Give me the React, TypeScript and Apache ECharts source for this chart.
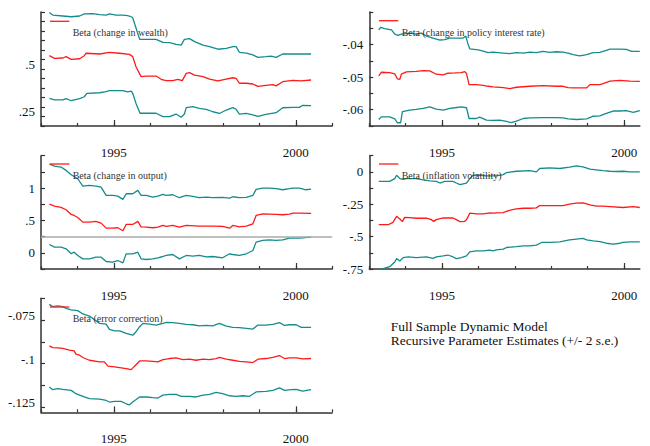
import React, { useEffect, useRef } from "react";
import * as echarts from "echarts";

// ---------- data (time in years, value) ----------
const W_UP = [[1993.23,0.772],[1993.32,0.759],[1993.60,0.754],[1993.83,0.750],[1994.06,0.754],[1994.19,0.765],[1994.42,0.766],[1994.61,0.761],[1994.79,0.759],[1994.88,0.765],[1995.06,0.759],[1995.25,0.759],[1995.38,0.756],[1995.48,0.750],[1995.52,0.745],[1995.71,0.631],[1996.16,0.631],[1996.35,0.615],[1996.53,0.614],[1996.71,0.605],[1996.85,0.601],[1996.94,0.631],[1997.08,0.635],[1997.22,0.619],[1997.45,0.601],[1997.63,0.593],[1997.86,0.579],[1998.09,0.584],[1998.27,0.593],[1998.36,0.593],[1998.45,0.563],[1998.64,0.558],[1998.82,0.549],[1998.96,0.536],[1999.18,0.540],[1999.32,0.543],[1999.46,0.536],[1999.64,0.554],[1999.92,0.554],[2000.42,0.554]];
const W_MID = [[1993.23,0.545],[1993.37,0.531],[1993.60,0.533],[1993.69,0.540],[1993.83,0.526],[1994.06,0.529],[1994.19,0.545],[1994.24,0.558],[1994.61,0.554],[1994.88,0.563],[1995.16,0.558],[1995.43,0.552],[1995.52,0.540],[1995.61,0.487],[1995.75,0.435],[1995.89,0.438],[1996.16,0.438],[1996.30,0.421],[1996.44,0.414],[1996.62,0.414],[1996.76,0.421],[1996.88,0.414],[1996.99,0.452],[1997.08,0.456],[1997.22,0.443],[1997.45,0.435],[1997.63,0.422],[1997.86,0.412],[1998.09,0.422],[1998.27,0.429],[1998.36,0.426],[1998.45,0.400],[1998.64,0.400],[1998.82,0.396],[1998.96,0.384],[1999.18,0.389],[1999.37,0.393],[1999.46,0.386],[1999.64,0.408],[1999.92,0.415],[2000.15,0.413],[2000.42,0.417]];
const W_LO = [[1993.23,0.321],[1993.37,0.312],[1993.60,0.312],[1993.69,0.319],[1993.83,0.308],[1994.06,0.319],[1994.19,0.329],[1994.26,0.347],[1994.61,0.350],[1994.79,0.356],[1994.88,0.361],[1995.25,0.361],[1995.38,0.354],[1995.48,0.359],[1995.52,0.347],[1995.61,0.294],[1995.72,0.242],[1996.16,0.242],[1996.35,0.224],[1996.53,0.224],[1996.71,0.238],[1996.85,0.221],[1996.94,0.238],[1996.99,0.272],[1997.17,0.277],[1997.35,0.268],[1997.54,0.263],[1997.72,0.250],[1997.90,0.241],[1998.09,0.259],[1998.27,0.272],[1998.36,0.263],[1998.45,0.238],[1998.64,0.241],[1998.82,0.233],[1998.96,0.226],[1999.18,0.236],[1999.46,0.245],[1999.64,0.271],[1999.92,0.273],[2000.10,0.273],[2000.19,0.284],[2000.42,0.282]];

const P_UP = [[1993.26,-0.0355],[1993.31,-0.0347],[1993.42,-0.0351],[1993.61,-0.0355],[1993.70,-0.0368],[1993.79,-0.0372],[1993.88,-0.0368],[1994.11,-0.0365],[1994.29,-0.0368],[1994.43,-0.0365],[1994.57,-0.0374],[1994.75,-0.0380],[1994.94,-0.0386],[1995.07,-0.0385],[1995.21,-0.0380],[1995.39,-0.0380],[1995.58,-0.0380],[1995.65,-0.0374],[1995.71,-0.0398],[1995.76,-0.0413],[1995.99,-0.0416],[1996.13,-0.0420],[1996.26,-0.0425],[1996.40,-0.0423],[1996.68,-0.0426],[1996.86,-0.0428],[1997.04,-0.0425],[1997.23,-0.0426],[1997.41,-0.0423],[1997.59,-0.0425],[1997.77,-0.0421],[1997.96,-0.0424],[1998.14,-0.0422],[1998.32,-0.0423],[1998.46,-0.0426],[1998.60,-0.0431],[1998.78,-0.0435],[1998.97,-0.0431],[1999.15,-0.0425],[1999.33,-0.0424],[1999.51,-0.0418],[1999.61,-0.0414],[1999.88,-0.0414],[2000.06,-0.0415],[2000.20,-0.0421],[2000.43,-0.0421]];
const P_MID = [[1993.26,-0.0496],[1993.33,-0.0485],[1993.56,-0.0486],[1993.70,-0.0490],[1993.77,-0.0505],[1993.84,-0.0507],[1993.88,-0.0491],[1994.02,-0.0484],[1994.29,-0.0482],[1994.48,-0.0480],[1994.66,-0.0481],[1994.84,-0.0491],[1995.03,-0.0493],[1995.16,-0.0488],[1995.35,-0.0487],[1995.53,-0.0486],[1995.62,-0.0483],[1995.67,-0.0489],[1995.74,-0.0523],[1995.94,-0.0523],[1996.13,-0.0525],[1996.26,-0.0528],[1996.40,-0.0530],[1996.68,-0.0532],[1996.86,-0.0535],[1997.04,-0.0531],[1997.41,-0.0528],[1997.77,-0.0526],[1998.14,-0.0528],[1998.32,-0.0528],[1998.46,-0.0532],[1998.60,-0.0533],[1998.97,-0.0533],[1999.06,-0.0523],[1999.33,-0.0523],[1999.42,-0.0520],[1999.61,-0.0512],[1999.88,-0.0510],[2000.16,-0.0512],[2000.43,-0.0513]];
const P_LO = [[1993.26,-0.0630],[1993.33,-0.0622],[1993.56,-0.0622],[1993.70,-0.0628],[1993.77,-0.0640],[1993.86,-0.0640],[1993.91,-0.0606],[1994.11,-0.0601],[1994.29,-0.0599],[1994.48,-0.0596],[1994.66,-0.0591],[1994.84,-0.0598],[1995.03,-0.0601],[1995.21,-0.0596],[1995.35,-0.0594],[1995.53,-0.0591],[1995.67,-0.0594],[1995.74,-0.0627],[1995.94,-0.0627],[1996.03,-0.0623],[1996.22,-0.0632],[1996.40,-0.0633],[1996.58,-0.0632],[1996.77,-0.0636],[1996.90,-0.0640],[1997.04,-0.0635],[1997.23,-0.0627],[1997.41,-0.0625],[1997.77,-0.0624],[1998.14,-0.0624],[1998.32,-0.0625],[1998.46,-0.0628],[1998.69,-0.0630],[1998.97,-0.0628],[1999.15,-0.0620],[1999.33,-0.0619],[1999.51,-0.0611],[1999.70,-0.0604],[1999.88,-0.0604],[2000.06,-0.0603],[2000.25,-0.0608],[2000.43,-0.0603]];

const O_UP = [[1993.23,1.371],[1993.37,1.340],[1993.55,1.325],[1993.69,1.273],[1993.83,1.206],[1994.01,1.144],[1994.15,1.031],[1994.33,1.041],[1994.51,1.031],[1994.65,1.015],[1994.79,0.887],[1994.97,0.887],[1995.11,0.876],[1995.25,0.825],[1995.34,0.912],[1995.52,0.912],[1995.66,0.964],[1995.75,0.887],[1995.89,0.887],[1996.07,0.861],[1996.21,0.876],[1996.35,0.902],[1996.44,0.887],[1996.62,0.897],[1996.80,0.851],[1996.99,0.887],[1997.17,0.871],[1997.35,0.851],[1997.54,0.861],[1997.72,0.851],[1997.99,0.856],[1998.18,0.845],[1998.27,0.866],[1998.45,0.851],[1998.64,0.856],[1998.82,0.887],[1998.91,0.979],[1999.09,1.000],[1999.28,1.000],[1999.46,0.990],[1999.64,0.974],[1999.83,0.990],[1999.92,1.000],[2000.10,1.000],[2000.28,0.974],[2000.42,0.985]];
const O_MID = [[1993.23,0.753],[1993.37,0.722],[1993.55,0.701],[1993.69,0.665],[1993.83,0.593],[1993.91,0.577],[1994.01,0.546],[1994.15,0.474],[1994.33,0.474],[1994.51,0.485],[1994.65,0.459],[1994.79,0.381],[1994.97,0.381],[1995.11,0.387],[1995.25,0.340],[1995.34,0.438],[1995.52,0.438],[1995.66,0.485],[1995.75,0.402],[1995.89,0.397],[1996.07,0.387],[1996.21,0.397],[1996.35,0.423],[1996.44,0.407],[1996.62,0.423],[1996.80,0.397],[1996.99,0.423],[1997.35,0.412],[1997.72,0.412],[1997.99,0.407],[1998.18,0.381],[1998.27,0.423],[1998.45,0.402],[1998.64,0.412],[1998.82,0.448],[1998.91,0.577],[1999.09,0.603],[1999.28,0.598],[1999.46,0.593],[1999.64,0.588],[1999.83,0.598],[1999.92,0.613],[2000.10,0.613],[2000.42,0.608]];
const O_LO = [[1993.23,0.129],[1993.37,0.088],[1993.55,0.088],[1993.69,0.062],[1993.83,-0.015],[1993.91,0.010],[1994.01,-0.041],[1994.15,-0.093],[1994.33,-0.093],[1994.51,-0.067],[1994.65,-0.067],[1994.79,-0.134],[1994.97,-0.144],[1995.11,-0.119],[1995.25,-0.155],[1995.34,-0.015],[1995.52,-0.015],[1995.66,0.010],[1995.75,-0.093],[1995.89,-0.103],[1996.07,-0.093],[1996.21,-0.077],[1996.35,-0.057],[1996.44,-0.041],[1996.62,-0.026],[1996.80,-0.093],[1996.99,-0.041],[1997.17,-0.051],[1997.35,-0.041],[1997.54,-0.062],[1997.72,-0.057],[1997.99,-0.077],[1998.18,-0.015],[1998.27,-0.026],[1998.45,-0.041],[1998.64,-0.015],[1998.82,0.036],[1998.91,0.165],[1999.09,0.191],[1999.28,0.201],[1999.46,0.191],[1999.64,0.201],[1999.83,0.227],[2000.10,0.227],[2000.42,0.242]];
const OUTPUT_REF = 0.25;

const I_UP = [[1993.26,-0.073],[1993.56,-0.073],[1993.70,-0.052],[1993.75,-0.026],[1993.84,-0.052],[1993.93,-0.057],[1994.02,-0.052],[1994.29,-0.052],[1994.48,-0.062],[1994.66,-0.070],[1994.84,-0.073],[1994.94,-0.086],[1995.07,-0.073],[1995.30,-0.073],[1995.39,-0.086],[1995.49,-0.099],[1995.67,-0.086],[1995.76,-0.052],[1995.85,-0.026],[1996.03,-0.026],[1996.22,-0.031],[1996.49,-0.031],[1996.68,-0.021],[1996.77,-0.005],[1997.04,0.005],[1997.41,0.010],[1997.59,0.000],[1997.68,0.026],[1997.96,0.031],[1998.23,0.026],[1998.50,0.036],[1998.69,0.047],[1998.87,0.039],[1999.06,0.021],[1999.24,0.016],[1999.42,0.010],[1999.61,0.005],[1999.79,0.003],[1999.97,0.005],[2000.16,0.000],[2000.43,0.000]];
const I_MID = [[1993.26,-0.408],[1993.52,-0.408],[1993.65,-0.390],[1993.75,-0.343],[1993.84,-0.364],[1993.91,-0.384],[1993.97,-0.351],[1994.11,-0.353],[1994.29,-0.358],[1994.57,-0.358],[1994.70,-0.369],[1994.77,-0.382],[1994.84,-0.369],[1995.03,-0.356],[1995.30,-0.356],[1995.39,-0.369],[1995.49,-0.384],[1995.62,-0.382],[1995.67,-0.369],[1995.76,-0.319],[1995.94,-0.325],[1996.13,-0.325],[1996.31,-0.317],[1996.40,-0.319],[1996.49,-0.317],[1996.68,-0.314],[1996.77,-0.304],[1996.90,-0.294],[1997.04,-0.286],[1997.23,-0.281],[1997.41,-0.281],[1997.59,-0.278],[1997.68,-0.260],[1998.14,-0.260],[1998.32,-0.260],[1998.50,-0.249],[1998.69,-0.242],[1998.87,-0.239],[1998.97,-0.247],[1999.06,-0.255],[1999.24,-0.265],[1999.42,-0.265],[1999.61,-0.268],[1999.97,-0.275],[2000.25,-0.268],[2000.43,-0.275]];
const I_LO = [[1993.26,-0.753],[1993.38,-0.748],[1993.56,-0.732],[1993.70,-0.696],[1993.75,-0.670],[1993.84,-0.688],[1993.93,-0.662],[1994.07,-0.657],[1994.29,-0.662],[1994.57,-0.657],[1994.75,-0.668],[1994.84,-0.657],[1995.03,-0.649],[1995.16,-0.642],[1995.30,-0.657],[1995.39,-0.670],[1995.53,-0.662],[1995.67,-0.649],[1995.76,-0.618],[1995.94,-0.610],[1996.13,-0.610],[1996.31,-0.605],[1996.40,-0.610],[1996.49,-0.603],[1996.68,-0.597],[1996.77,-0.584],[1997.04,-0.577],[1997.23,-0.571],[1997.41,-0.571],[1997.59,-0.566],[1997.73,-0.545],[1997.96,-0.545],[1998.23,-0.540],[1998.50,-0.525],[1998.69,-0.519],[1998.87,-0.514],[1998.97,-0.525],[1999.15,-0.532],[1999.33,-0.538],[1999.51,-0.551],[1999.70,-0.558],[1999.88,-0.551],[1999.97,-0.545],[2000.16,-0.540],[2000.43,-0.540]];

const E_UP = [[1993.23,-0.0685],[1993.32,-0.0698],[1993.46,-0.0694],[1993.60,-0.0698],[1993.69,-0.0708],[1993.83,-0.0717],[1994.01,-0.0721],[1994.15,-0.0740],[1994.33,-0.0752],[1994.61,-0.0794],[1994.79,-0.0798],[1994.88,-0.0829],[1995.02,-0.0837],[1995.16,-0.0837],[1995.34,-0.0852],[1995.52,-0.0862],[1995.61,-0.0842],[1995.71,-0.0813],[1995.80,-0.0794],[1995.98,-0.0798],[1996.16,-0.0804],[1996.35,-0.0794],[1996.44,-0.0788],[1996.62,-0.0790],[1996.80,-0.0794],[1996.99,-0.0800],[1997.17,-0.0802],[1997.35,-0.0808],[1997.54,-0.0806],[1997.72,-0.0808],[1997.90,-0.0794],[1998.09,-0.0810],[1998.27,-0.0817],[1998.45,-0.0819],[1998.64,-0.0823],[1998.82,-0.0827],[1998.96,-0.0804],[1999.18,-0.0804],[1999.37,-0.0800],[1999.55,-0.0790],[1999.69,-0.0806],[1999.83,-0.0802],[2000.01,-0.0802],[2000.15,-0.0817],[2000.42,-0.0817]];
const E_MID = [[1993.23,-0.0923],[1993.32,-0.0933],[1993.46,-0.0935],[1993.60,-0.0938],[1993.78,-0.0948],[1993.91,-0.0952],[1993.96,-0.0971],[1994.06,-0.0977],[1994.15,-0.0990],[1994.33,-0.1006],[1994.61,-0.1015],[1994.74,-0.1015],[1994.84,-0.1040],[1995.02,-0.1044],[1995.16,-0.1048],[1995.34,-0.1054],[1995.48,-0.1060],[1995.57,-0.1040],[1995.71,-0.1010],[1995.89,-0.1010],[1996.07,-0.1012],[1996.21,-0.1015],[1996.35,-0.1002],[1996.53,-0.0996],[1996.71,-0.0992],[1996.90,-0.1002],[1997.08,-0.1000],[1997.26,-0.1006],[1997.45,-0.1000],[1997.63,-0.1002],[1997.81,-0.0996],[1997.90,-0.0990],[1998.09,-0.1000],[1998.27,-0.1006],[1998.45,-0.1012],[1998.64,-0.1015],[1998.82,-0.1019],[1998.96,-0.1000],[1999.18,-0.0996],[1999.37,-0.0990],[1999.55,-0.0979],[1999.69,-0.0996],[1999.83,-0.0992],[2000.01,-0.0992],[2000.19,-0.0998],[2000.42,-0.0996]];
const E_LO = [[1993.23,-0.1160],[1993.32,-0.1175],[1993.46,-0.1169],[1993.60,-0.1173],[1993.83,-0.1179],[1993.96,-0.1198],[1994.15,-0.1213],[1994.33,-0.1227],[1994.61,-0.1229],[1994.79,-0.1237],[1994.88,-0.1246],[1995.02,-0.1242],[1995.20,-0.1242],[1995.34,-0.1256],[1995.43,-0.1262],[1995.52,-0.1246],[1995.71,-0.1217],[1995.89,-0.1217],[1996.07,-0.1221],[1996.21,-0.1223],[1996.35,-0.1206],[1996.53,-0.1202],[1996.71,-0.1202],[1996.85,-0.1213],[1997.08,-0.1213],[1997.26,-0.1217],[1997.45,-0.1206],[1997.63,-0.1202],[1997.81,-0.1190],[1997.99,-0.1198],[1998.18,-0.1210],[1998.36,-0.1213],[1998.54,-0.1210],[1998.73,-0.1213],[1998.91,-0.1188],[1999.18,-0.1185],[1999.37,-0.1179],[1999.55,-0.1165],[1999.69,-0.1179],[1999.87,-0.1175],[2000.01,-0.1173],[2000.19,-0.1183],[2000.42,-0.1175]];

// ---------- axis ticks / labels ----------
const YEAR_TICKS_LEFT = [1993, 1994, 1995, 1996, 1997, 1998, 1999, 2000, 2001];
const YEAR_TICKS_RIGHT = [1993, 1994, 1995, 1996, 1997, 1998, 1999, 2000];
const YEAR_LABELS = [1995, 2000];

const Y1_TICKS = [0.175, 0.225, 0.275, 0.325, 0.375, 0.425, 0.475, 0.525, 0.575, 0.625, 0.675, 0.725, 0.775];
const Y1_LABELS = [0.25, 0.5];
const Y2_TICKS = [-0.065, -0.06, -0.055, -0.05, -0.045, -0.04, -0.035, -0.03];
const Y2_LABELS = [-0.06, -0.05, -0.04];
const Y3_TICKS = [-0.25, 0, 0.25, 0.5, 0.75, 1, 1.25, 1.5];
const Y3_LABELS = [0, 0.5, 1];
const Y4_TICKS = [-0.75, -0.625, -0.5, -0.375, -0.25, -0.125, 0, 0.125];
const Y4_LABELS = [-0.75, -0.5, -0.25, 0];
const Y5_TICKS = [-0.1275, -0.115, -0.1025, -0.09, -0.0775, -0.065];
const Y5_LABELS = [-0.125, -0.1, -0.075];

const TITLES = [
  "Beta (change in wealth)",
  "Beta (change in policy interest rate)",
  "Beta (change in output)",
  "Beta (inflation volatility)",
  "Beta (error correction)",
];
const NOTE = ["Full Sample Dynamic Model", "Recursive Parameter Estimates (+/- 2 s.e.)"];

const FONT = "'Liberation Serif', 'Times New Roman', Times, serif";
const RED = "#ff1a1a";
const TEAL = "#148c8c";
const AXIS = "#333";

const fmt = (v: number) => String(v).replace("0.", ".");

export default function App() {
  const ref = useRef<HTMLDivElement>(null);
  useEffect(() => {
    if (!ref.current) return;
    const chart = echarts.init(ref.current, undefined, { renderer: "svg" });

    const panels = [
      { grid: { left: 41, top: 12, width: 291.2, height: 114 }, xmax: 2001, yt: YEAR_TICKS_LEFT, ymin: 0.175, ymax: 0.775, ticks: Y1_TICKS, labels: Y1_LABELS, s: [W_UP, W_MID, W_LO] },
      { grid: { left: 369.3, top: 12, width: 270.5, height: 114 }, xmax: 2000.43, yt: YEAR_TICKS_RIGHT, ymin: -0.065, ymax: -0.03, ticks: Y2_TICKS, labels: Y2_LABELS, s: [P_UP, P_MID, P_LO] },
      { grid: { left: 41, top: 155.7, width: 291.2, height: 113.3 }, xmax: 2001, yt: YEAR_TICKS_LEFT, ymin: -0.25, ymax: 1.5, ticks: Y3_TICKS, labels: Y3_LABELS, s: [O_UP, O_MID, O_LO] },
      { grid: { left: 369.3, top: 155.7, width: 270.5, height: 113.3 }, xmax: 2000.43, yt: YEAR_TICKS_RIGHT, ymin: -0.75, ymax: 0.125, ticks: Y4_TICKS, labels: Y4_LABELS, s: [I_UP, I_MID, I_LO] },
      { grid: { left: 41, top: 298.3, width: 291.2, height: 114 }, xmax: 2001, yt: YEAR_TICKS_LEFT, ymin: -0.1305, ymax: -0.065, ticks: Y5_TICKS, labels: Y5_LABELS, s: [E_UP, E_MID, E_LO] },
    ];

    const grids: any[] = [];
    const xAxis: any[] = [];
    const yAxis: any[] = [];
    const series: any[] = [];
    const legendPos = [
      { lx: 50, ly: 21.3, tx: 72.7, ty: 32.3 },
      { lx: 379, ly: 20.7, tx: 401.7, ty: 32.3 },
      { lx: 50, ly: 164, tx: 72.7, ty: 175 },
      { lx: 379, ly: 164, tx: 401.7, ty: 175 },
      { lx: 50, ly: 307, tx: 72.7, ty: 318 },
    ];
    const graphic: any[] = [];

    panels.forEach((p, i) => {
      grids.push({ ...p.grid, containLabel: false });
      xAxis.push({
        type: "value", gridIndex: i, position: "bottom", min: 1993, max: p.xmax,
        axisLine: { show: true, onZero: false, lineStyle: { color: AXIS, width: 1.5 } },
        axisTick: { show: true, inside: true, length: 3, customValues: p.yt, lineStyle: { color: AXIS, width: 1.2 } },
        axisLabel: { show: false }, splitLine: { show: false },
      });
      xAxis.push({
        type: "value", gridIndex: i, position: "bottom", min: 1993, max: p.xmax,
        axisLine: { show: false, onZero: false },
        axisTick: { show: true, inside: true, length: 6, customValues: YEAR_LABELS, lineStyle: { color: AXIS, width: 1.2 } },
        axisLabel: { show: true, customValues: YEAR_LABELS, margin: 20, fontSize: 13, color: "#111", fontFamily: FONT, formatter: (v: number) => String(v) },
        splitLine: { show: false },
      });
      yAxis.push({
        type: "value", gridIndex: i, min: p.ymin, max: p.ymax,
        axisLine: { show: true, onZero: false, lineStyle: { color: AXIS, width: 1.5 } },
        axisTick: { show: true, inside: true, length: 4, customValues: p.ticks, lineStyle: { color: AXIS, width: 1.2 } },
        axisLabel: { show: true, customValues: p.labels, margin: 6, fontSize: 13, color: "#111", fontFamily: FONT, formatter: (v: number) => fmt(v) },
        splitLine: { show: false },
      });
      const colors = [TEAL, RED, TEAL];
      p.s.forEach((d, k) => {
        const ser: any = {
          type: "line", xAxisIndex: 2 * i, yAxisIndex: i, data: d, symbol: "none", showSymbol: false,
          lineStyle: { color: colors[k], width: 1.3 }, itemStyle: { color: colors[k] }, z: k === 1 ? 4 : 3,
        };
        if (i === 2 && k === 2) {
          ser.markLine = {
            silent: true, symbol: "none", label: { show: false },
            lineStyle: { color: "#aaa", width: 1.5, type: "solid" },
            data: [{ yAxis: OUTPUT_REF }],
          };
        }
        series.push(ser);
      });
      const lp = legendPos[i];
      graphic.push({ type: "line", shape: { x1: lp.lx, y1: lp.ly, x2: lp.lx + 19.3, y2: lp.ly }, style: { stroke: RED, lineWidth: 1.3 }, z: 10 });
      graphic.push({ type: "text", x: lp.tx, y: lp.ty, style: { text: TITLES[i], fontFamily: FONT, fontSize: 10, fill: "#333", verticalAlign: "middle", align: "left" }, z: 10 });
    });

    graphic.push({ type: "text", x: 390.7, y: 326.5, style: { text: NOTE[0], fontFamily: FONT, fontSize: 13.5, fill: "#111", verticalAlign: "middle" } });
    graphic.push({ type: "text", x: 390.7, y: 340.5, style: { text: NOTE[1], fontFamily: FONT, fontSize: 13.5, fill: "#111", verticalAlign: "middle" } });

    chart.setOption({
      animation: false,
      backgroundColor: "#fff",
      grid: grids,
      xAxis,
      yAxis,
      series,
      graphic,
    });
    return () => chart.dispose();
  }, []);
  return <div ref={ref} style={{ position: "fixed", left: 0, top: 0, width: 650, height: 446 }} />;
}
